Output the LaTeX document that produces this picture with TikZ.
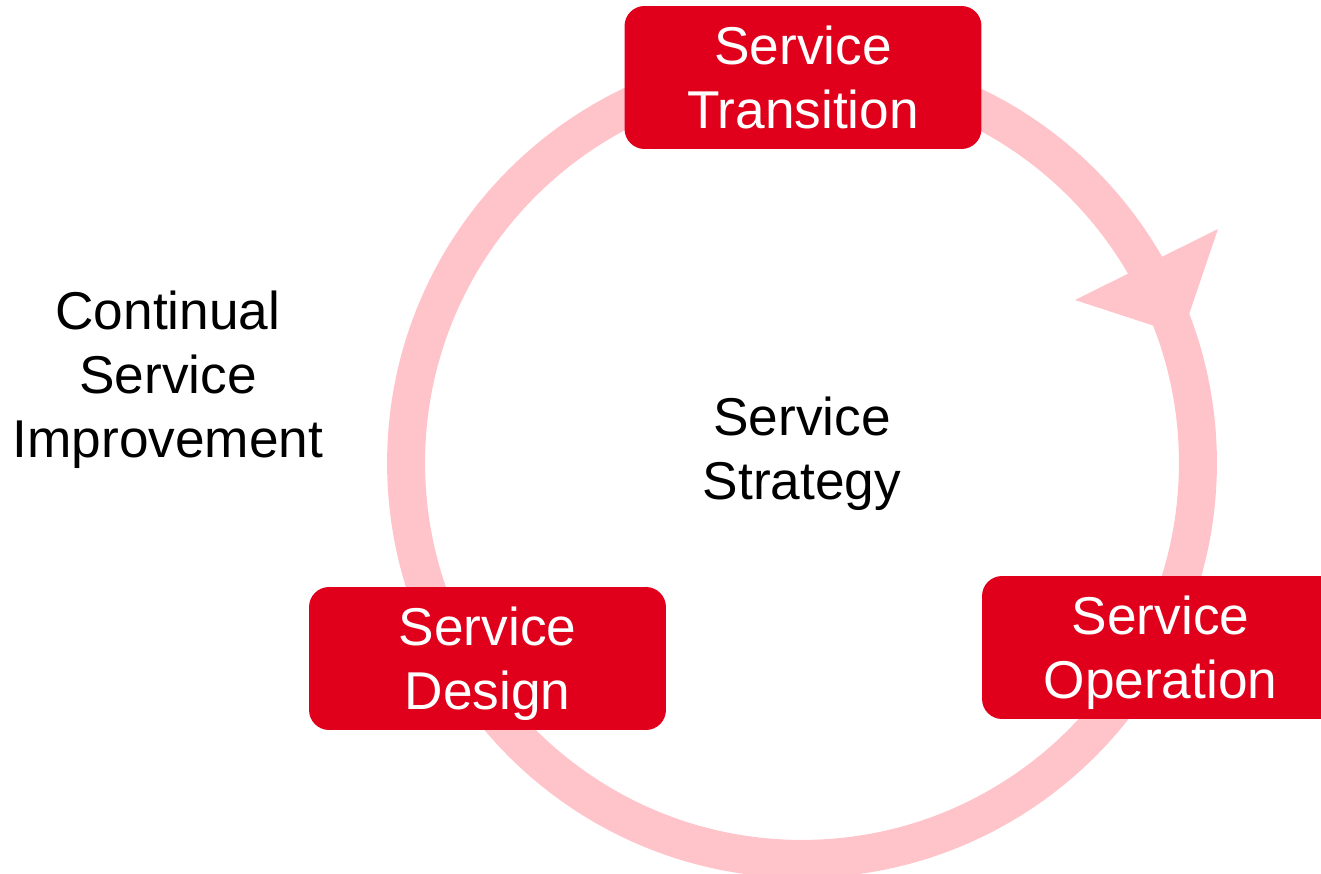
\documentclass[tikz,border=0pt]{standalone}
\usepackage{fontspec}
\setmainfont{Liberation Sans}
\usetikzlibrary{positioning}
\definecolor{phasered}{HTML}{E0001B}
\definecolor{ringpink}{HTML}{FFC4CA}

\begin{document}
\begin{tikzpicture}[x=0.02cm, y=-0.02cm,
  phase/.style={fill=phasered, rounded corners=0.4cm, minimum width=7.14cm, minimum height=2.86cm, text=white, align=center, text depth=0pt, font=\fontsize{30.3}{36.5}\selectfont},
  label/.style={text=black, align=center, text depth=0pt, font=\fontsize{30.3}{36.5}\selectfont}]
\def\r{7.92cm}
\def\w{0.76cm}
\path[use as bounding box, clip] (0,0) rectangle (1321,874);
\coordinate (hub) at (802,463);
% ring and arrow head
\draw [ringpink, line width=\w] (hub) circle (\r);
\fill [ringpink] (1075,300) -- (1218,229) -- (1182,335) -- cycle;
\node [phase, name=trans]   at (803,77.5)    {Service\\Transition};
\node [phase, name=oper]    at (1160.5,647.5) {Service\\Operation};
\node [phase, name=design]  at (487.5,658.5) {Service\\Design};
\node [label, name=strat]   at (802,448)     {Service\\Strategy};
\node [label, name=improve] at (168,374)     {Continual\\Service\\Improvement};
\end{tikzpicture}
\end{document}
